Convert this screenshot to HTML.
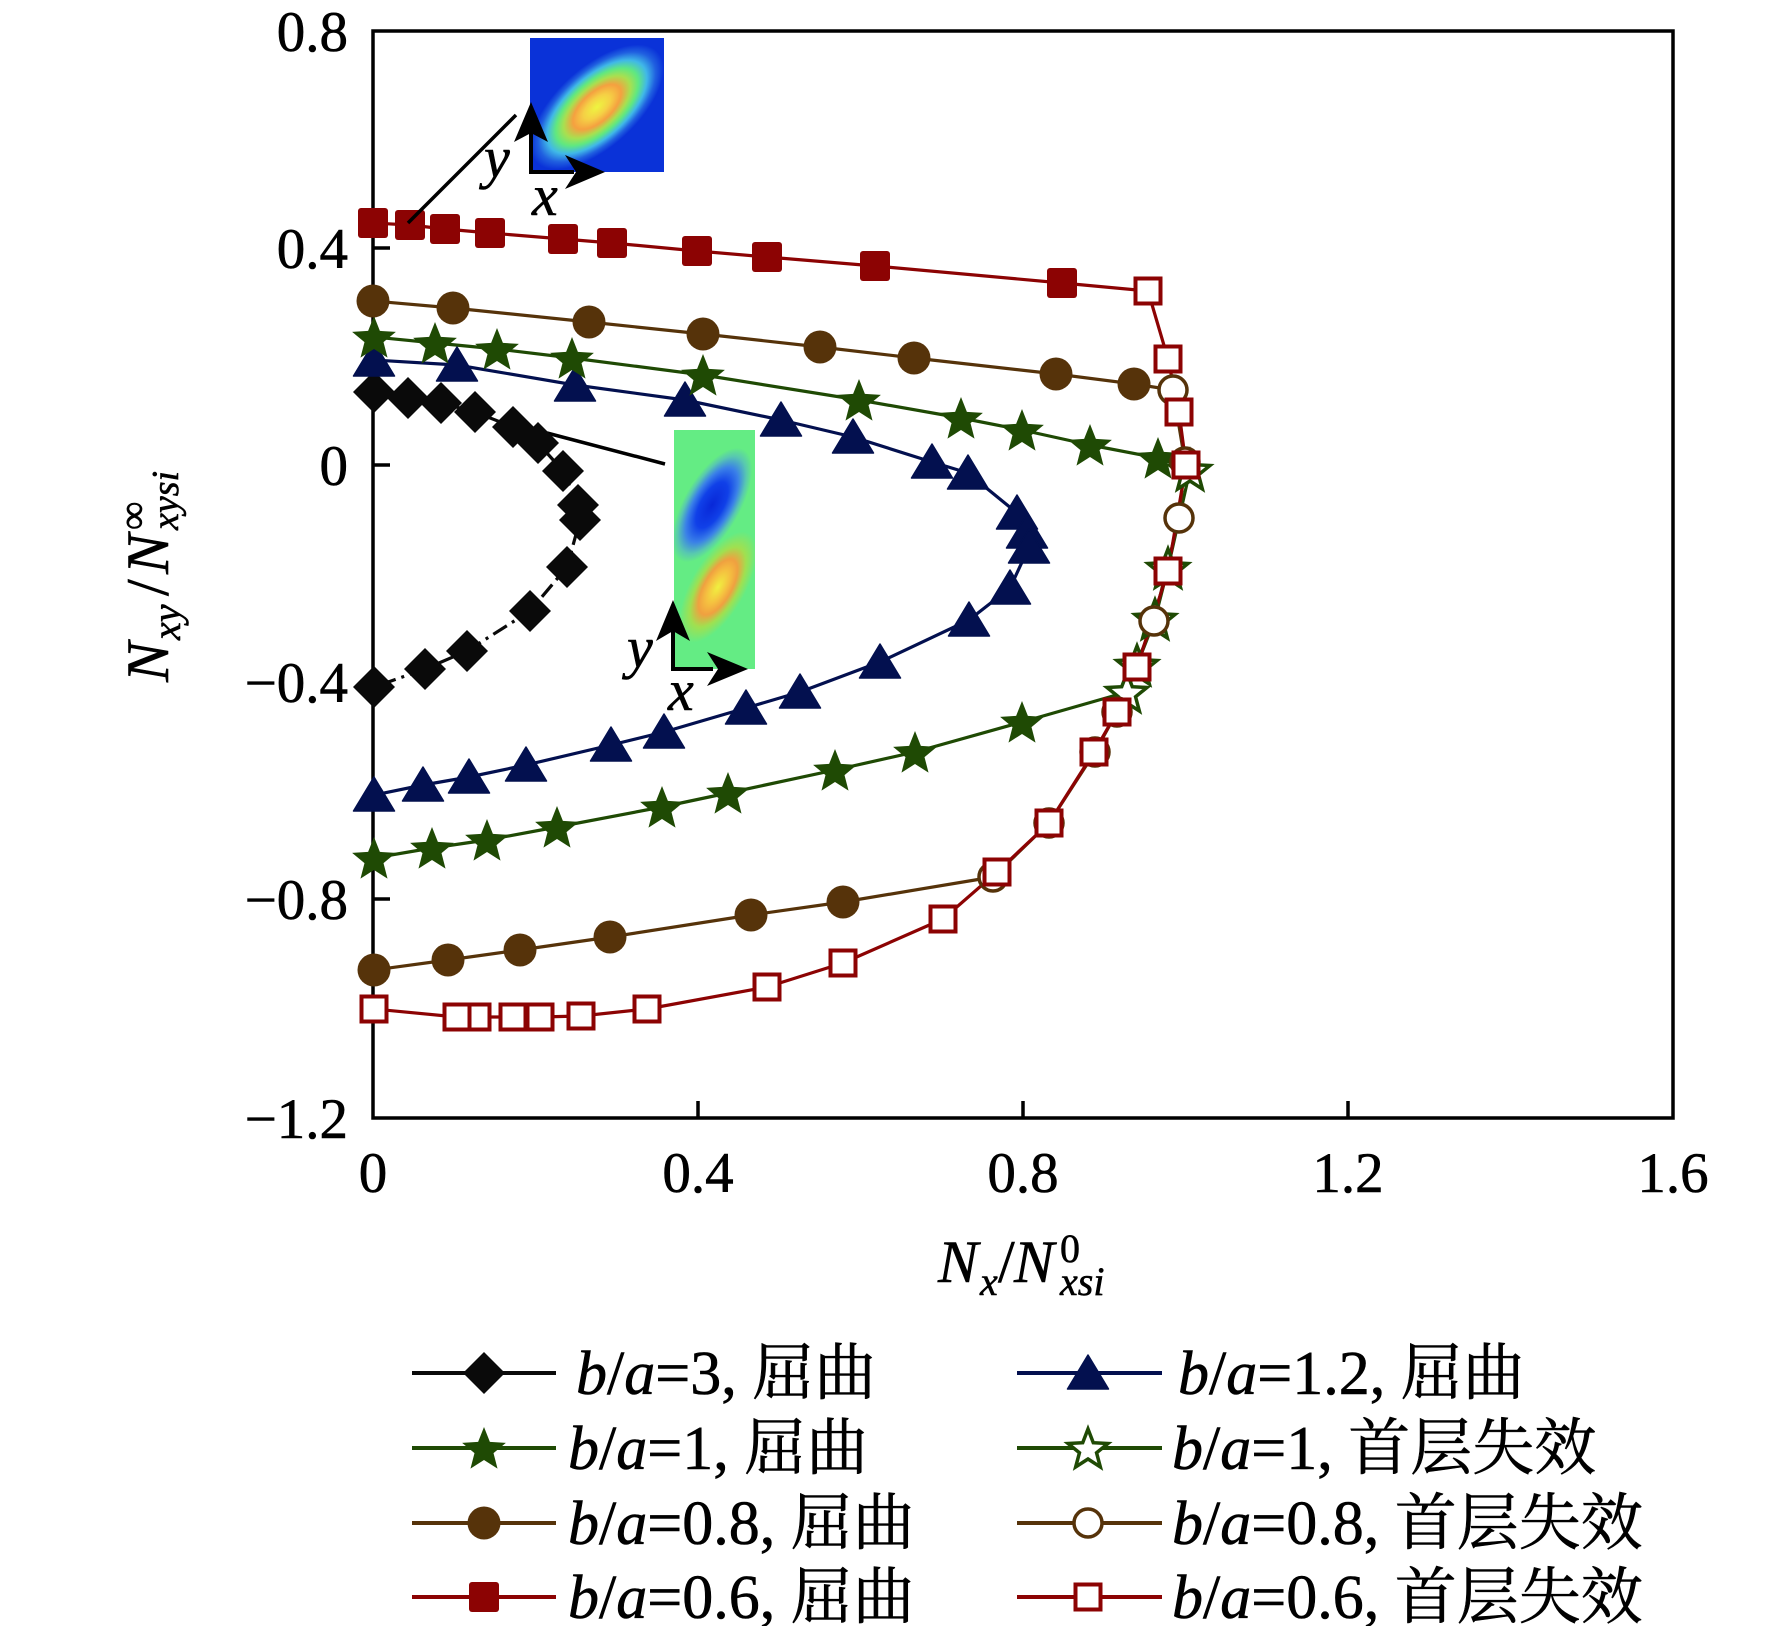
<!DOCTYPE html>
<html><head><meta charset="utf-8"><style>
html,body{margin:0;padding:0;background:#fff;}
svg{display:block;}
text{font-family:"Liberation Serif","Noto Serif CJK SC",serif;fill:#000;stroke:#000;stroke-width:0.6;}
</style></head><body>
<svg width="1772" height="1626" viewBox="0 0 1772 1626" xmlns="http://www.w3.org/2000/svg">
<defs>
<polygon id="dia" points="0,-21 21,0 0,21 -21,0" fill="#0a0a0a"/>
<polygon id="tri" points="0,-18 20.5,16 -20.5,16" fill="#03104f" stroke="#03104f" stroke-width="1.5" stroke-linejoin="round"/>
<polygon id="starF" points="0,-21 5.88,-6.09 21.88,-5.11 9.51,5.09 13.52,20.61 0,12 -13.52,20.61 -9.51,5.09 -21.88,-5.11 -5.88,-6.09" fill="#1f4a04"/>
<polygon id="starO" points="0,-19 5.29,-5.28 19.97,-4.49 8.56,4.78 12.34,18.99 0,11 -12.34,18.99 -8.56,4.78 -19.97,-4.49 -5.29,-5.28" fill="#fff" stroke="#1f4a04" stroke-width="3.5" stroke-linejoin="miter"/>
<circle id="circF" r="16.5" fill="#56330a"/>
<circle id="circO" r="14" fill="#fff" stroke="#56330a" stroke-width="3.5"/>
<rect id="sqF" x="-15" y="-15" width="30" height="30" rx="3" fill="#8c0303"/>
<rect id="sqO" x="-12.5" y="-12.5" width="25" height="25" fill="#fff" stroke="#8c0303" stroke-width="4"/>
<radialGradient id="g1">
<stop offset="0" stop-color="#eef540"/>
<stop offset="0.2" stop-color="#f5d045"/>
<stop offset="0.36" stop-color="#f5a040"/>
<stop offset="0.5" stop-color="#a8e050"/>
<stop offset="0.62" stop-color="#60e880"/>
<stop offset="0.75" stop-color="#40b8e8"/>
<stop offset="0.88" stop-color="#2060e0"/>
<stop offset="1" stop-color="#0a32d8"/>
</radialGradient>
<radialGradient id="gb">
<stop offset="0" stop-color="#0828d8"/>
<stop offset="0.4" stop-color="#1040e8"/>
<stop offset="0.65" stop-color="#3a80e8"/>
<stop offset="0.85" stop-color="#58c8b0"/>
<stop offset="1" stop-color="#64ec84"/>
</radialGradient>
<radialGradient id="gy">
<stop offset="0" stop-color="#f0f040"/>
<stop offset="0.3" stop-color="#f5c040"/>
<stop offset="0.5" stop-color="#f0a040"/>
<stop offset="0.72" stop-color="#a0e050"/>
<stop offset="1" stop-color="#64ec84"/>
</radialGradient>
<clipPath id="c1"><rect x="530" y="38" width="134" height="134"/></clipPath>
<clipPath id="c2"><rect x="674" y="430" width="81" height="239"/></clipPath>
</defs>

<!-- axes frame -->
<rect x="373" y="31" width="1300" height="1087" fill="none" stroke="#000" stroke-width="3.5"/>
<g stroke="#000" stroke-width="3.5">
<line x1="373" y1="248" x2="390" y2="248"/>
<line x1="373" y1="465" x2="390" y2="465"/>
<line x1="373" y1="682" x2="390" y2="682"/>
<line x1="373" y1="899" x2="390" y2="899"/>
<line x1="698" y1="1118" x2="698" y2="1101"/>
<line x1="1023" y1="1118" x2="1023" y2="1101"/>
<line x1="1348" y1="1118" x2="1348" y2="1101"/>
</g>

<!-- tick labels -->
<g font-size="57" text-anchor="end">
<text x="348" y="51">0.8</text>
<text x="348" y="268">0.4</text>
<text x="348" y="485">0</text>
<text x="348" y="702">−0.4</text>
<text x="348" y="919">−0.8</text>
<text x="348" y="1138">−1.2</text>
</g>
<g font-size="57" text-anchor="middle">
<text x="373" y="1192">0</text>
<text x="698" y="1192">0.4</text>
<text x="1023" y="1192">0.8</text>
<text x="1348" y="1192">1.2</text>
<text x="1673" y="1192">1.6</text>
</g>

<!-- axis titles -->
<text y="1282" font-size="60"><tspan x="938" font-style="italic">N</tspan><tspan x="980" y="1295" font-size="40" font-style="italic">x</tspan><tspan x="998" y="1282">/</tspan><tspan x="1014" y="1282" font-style="italic">N</tspan><tspan x="1060" y="1262" font-size="40">0</tspan><tspan x="1060" y="1295" font-size="40" font-style="italic">xsi</tspan></text>

<text transform="translate(168,682) rotate(-90)" font-size="60"><tspan x="0" y="0" font-style="italic">N</tspan><tspan x="42" y="12" font-size="40" font-style="italic">xy</tspan><tspan x="86" y="0">/</tspan><tspan x="108" y="0" font-style="italic">N</tspan><tspan x="152" y="-22" font-size="40">∞</tspan><tspan x="152" y="10" font-size="38" font-style="italic">xysi</tspan></text>

<!-- series lines -->
<g fill="none" stroke-width="3.2" stroke-linejoin="round">
<polyline stroke="#0a0a0a" points="374,392 408,398 441,403 475,412 513,427 538,443 563,471"/>
<polyline stroke="#0a0a0a" stroke-dasharray="16,6,3,6" points="563,471 578,505 580,520 567,567 530,611 467,651 425,669 374,687"/>
<polyline stroke="#03104f" points="374,360 457,365 575,385 685,400 781,420 853,437 932,462 968,473 1017,513 1027,532 1029,547 1010,588 969,620 880,662 800,692 746,708 664,732 611,745 526,765 469,777 423,785 374,795"/>
<polyline stroke="#1f4a04" points="374,337 435,343 497,349 572,358 703,375 859,400 961,418 1022,430 1090,445 1158,458 1190,470 1168,568 1155,619 1137,665 1127,692 1022,722 915,752 835,770 728,793 662,807 557,827 487,840 432,848 374,858"/>
<polyline stroke="#56330a" points="373,301 453,308 589,322 703,334 820,347 914,358 1056,374 1134,384 1173,390 1185,462 1179,518 1154,621 1117,712 1095,752 1049,823 993,877 843,902 751,915 610,937 520,950 448,960 374,970"/>
<polyline stroke="#8c0303" points="373,223 410,225 445,229 490,233 563,239 612,243 697,251 767,257 875,266 1062,283 1148,291 1168,359 1179,412 1186,465 1168,571 1137,667 1117,712 1094,752 1049,823 997,872 943,919 843,963 767,987 647,1009 581,1016 540,1017 513,1017 477,1017 457,1017 374,1009"/>
</g>

<!-- leader line inset 2 -->
<line x1="547" y1="433" x2="665" y2="464" stroke="#000" stroke-width="3.5"/>

<!-- black diamonds -->
<g>
<use href="#dia" x="374" y="392"/><use href="#dia" x="408" y="398"/><use href="#dia" x="441" y="403"/><use href="#dia" x="475" y="412"/><use href="#dia" x="513" y="427"/><use href="#dia" x="538" y="443"/><use href="#dia" x="563" y="471"/><use href="#dia" x="578" y="505"/><use href="#dia" x="580" y="520"/><use href="#dia" x="567" y="567"/><use href="#dia" x="530" y="611"/><use href="#dia" x="467" y="651"/><use href="#dia" x="425" y="669"/><use href="#dia" x="374" y="687"/>
</g>
<!-- blue triangles -->
<g>
<use href="#tri" x="374" y="360"/><use href="#tri" x="457" y="365"/><use href="#tri" x="575" y="385"/><use href="#tri" x="685" y="400"/><use href="#tri" x="781" y="420"/><use href="#tri" x="853" y="437"/><use href="#tri" x="932" y="462"/><use href="#tri" x="968" y="473"/><use href="#tri" x="1017" y="513"/><use href="#tri" x="1027" y="532"/><use href="#tri" x="1029" y="547"/><use href="#tri" x="1010" y="588"/><use href="#tri" x="969" y="620"/><use href="#tri" x="880" y="662"/><use href="#tri" x="800" y="692"/><use href="#tri" x="746" y="708"/><use href="#tri" x="664" y="732"/><use href="#tri" x="611" y="745"/><use href="#tri" x="526" y="765"/><use href="#tri" x="469" y="777"/><use href="#tri" x="423" y="785"/><use href="#tri" x="374" y="795"/>
</g>
<!-- green stars -->
<g>
<use href="#starF" x="374" y="337"/><use href="#starF" x="435" y="343"/><use href="#starF" x="497" y="349"/><use href="#starF" x="572" y="358"/><use href="#starF" x="703" y="375"/><use href="#starF" x="859" y="400"/><use href="#starF" x="961" y="418"/><use href="#starF" x="1022" y="430"/><use href="#starF" x="1090" y="445"/><use href="#starF" x="1158" y="458"/>
<use href="#starF" x="1022" y="722"/><use href="#starF" x="915" y="752"/><use href="#starF" x="835" y="770"/><use href="#starF" x="728" y="793"/><use href="#starF" x="662" y="807"/><use href="#starF" x="557" y="827"/><use href="#starF" x="487" y="840"/><use href="#starF" x="432" y="848"/><use href="#starF" x="374" y="858"/>
<use href="#starO" x="1190" y="470"/><use href="#starO" x="1168" y="568"/><use href="#starO" x="1155" y="619"/><use href="#starO" x="1137" y="665"/><use href="#starO" x="1127" y="692"/>
</g>
<!-- brown circles -->
<g>
<use href="#circF" x="373" y="301"/><use href="#circF" x="453" y="308"/><use href="#circF" x="589" y="322"/><use href="#circF" x="703" y="334"/><use href="#circF" x="820" y="347"/><use href="#circF" x="914" y="358"/><use href="#circF" x="1056" y="374"/><use href="#circF" x="1134" y="384"/>
<use href="#circF" x="843" y="902"/><use href="#circF" x="751" y="915"/><use href="#circF" x="610" y="937"/><use href="#circF" x="520" y="950"/><use href="#circF" x="448" y="960"/><use href="#circF" x="374" y="970"/>
<use href="#circO" x="1173" y="390"/><use href="#circO" x="1185" y="462"/><use href="#circO" x="1179" y="518"/><use href="#circO" x="1154" y="621"/><use href="#circO" x="1117" y="712"/><use href="#circO" x="1095" y="752"/><use href="#circO" x="1049" y="823"/><use href="#circO" x="993" y="877"/>
</g>
<!-- red squares -->
<g>
<use href="#sqF" x="373" y="223"/><use href="#sqF" x="410" y="225"/><use href="#sqF" x="445" y="229"/><use href="#sqF" x="490" y="233"/><use href="#sqF" x="563" y="239"/><use href="#sqF" x="612" y="243"/><use href="#sqF" x="697" y="251"/><use href="#sqF" x="767" y="257"/><use href="#sqF" x="875" y="266"/><use href="#sqF" x="1062" y="283"/>
<use href="#sqO" x="1148" y="291"/><use href="#sqO" x="1168" y="359"/><use href="#sqO" x="1179" y="412"/><use href="#sqO" x="1186" y="465"/><use href="#sqO" x="1168" y="571"/><use href="#sqO" x="1137" y="667"/><use href="#sqO" x="1117" y="712"/><use href="#sqO" x="1094" y="752"/><use href="#sqO" x="1049" y="823"/><use href="#sqO" x="997" y="872"/><use href="#sqO" x="943" y="919"/><use href="#sqO" x="843" y="963"/><use href="#sqO" x="767" y="987"/><use href="#sqO" x="647" y="1009"/><use href="#sqO" x="581" y="1016"/><use href="#sqO" x="540" y="1017"/><use href="#sqO" x="513" y="1017"/><use href="#sqO" x="477" y="1017"/><use href="#sqO" x="457" y="1017"/><use href="#sqO" x="374" y="1009"/>
</g>

<!-- inset 1 -->
<g clip-path="url(#c1)">
<rect x="530" y="38" width="134" height="134" fill="#0a32d8"/>
<ellipse cx="0" cy="0" rx="82" ry="40" fill="url(#g1)" transform="translate(597,107) rotate(-42)"/>
</g>
<line x1="408" y1="223" x2="516" y2="115" stroke="#000" stroke-width="3.5"/>
<g fill="#000" stroke="none">
<rect x="529" y="125" width="4" height="48"/>
<polygon points="531,102 548,142 531,133 514,142"/>
<rect x="529" y="170" width="45" height="4"/>
<polygon points="605,172 565,155 576,172 565,189"/>
</g>
<text x="484" y="177" font-size="58" font-style="italic">y</text>
<text x="532" y="215" font-size="58" font-style="italic">x</text>

<!-- inset 2 -->
<g clip-path="url(#c2)">
<rect x="674" y="430" width="81" height="239" fill="#64ec84"/>
<ellipse cx="0" cy="0" rx="64" ry="28" fill="url(#gb)" transform="translate(712,505) rotate(-60)"/>
<ellipse cx="0" cy="0" rx="62" ry="27" fill="url(#gy)" transform="translate(718,587) rotate(-60)"/>
</g>
<g fill="#000" stroke="none">
<rect x="671" y="622" width="4" height="49"/>
<polygon points="673,600 690,641 673,631 656,641"/>
<rect x="671" y="667" width="42" height="4"/>
<polygon points="748,669 707,652 718,669 707,686"/>
</g>
<text x="627" y="667" font-size="58" font-style="italic">y</text>
<text x="668" y="710" font-size="58" font-style="italic">x</text>

<!-- legend -->
<g stroke-width="4">
<line x1="412" y1="1373" x2="556" y2="1373" stroke="#0a0a0a"/>
<line x1="412" y1="1448" x2="556" y2="1448" stroke="#1f4a04"/>
<line x1="412" y1="1523" x2="556" y2="1523" stroke="#56330a"/>
<line x1="412" y1="1597" x2="556" y2="1597" stroke="#8c0303"/>
<line x1="1017" y1="1373" x2="1162" y2="1373" stroke="#03104f"/>
<line x1="1017" y1="1448" x2="1162" y2="1448" stroke="#1f4a04"/>
<line x1="1017" y1="1523" x2="1162" y2="1523" stroke="#56330a"/>
<line x1="1017" y1="1597" x2="1162" y2="1597" stroke="#8c0303"/>
</g>
<use href="#dia" x="484" y="1373"/>
<use href="#starF" x="484" y="1448"/>
<use href="#circF" x="484" y="1523"/>
<use href="#sqF" x="484" y="1597"/>
<use href="#tri" x="1088" y="1373"/>
<use href="#starO" x="1088" y="1448"/>
<use href="#circO" x="1088" y="1523"/>
<use href="#sqO" x="1088" y="1597"/>
<g font-size="62">
<text x="576" y="1394"><tspan font-style="italic">b</tspan>/<tspan font-style="italic">a</tspan>=3, 屈曲</text>
<text x="568" y="1469"><tspan font-style="italic">b</tspan>/<tspan font-style="italic">a</tspan>=1, 屈曲</text>
<text x="568" y="1544"><tspan font-style="italic">b</tspan>/<tspan font-style="italic">a</tspan>=0.8, 屈曲</text>
<text x="568" y="1618"><tspan font-style="italic">b</tspan>/<tspan font-style="italic">a</tspan>=0.6, 屈曲</text>
<text x="1178" y="1394"><tspan font-style="italic">b</tspan>/<tspan font-style="italic">a</tspan>=1.2, 屈曲</text>
<text x="1172" y="1469"><tspan font-style="italic">b</tspan>/<tspan font-style="italic">a</tspan>=1, 首层失效</text>
<text x="1172" y="1544"><tspan font-style="italic">b</tspan>/<tspan font-style="italic">a</tspan>=0.8, 首层失效</text>
<text x="1172" y="1618"><tspan font-style="italic">b</tspan>/<tspan font-style="italic">a</tspan>=0.6, 首层失效</text>
</g>
</svg>
</body></html>
